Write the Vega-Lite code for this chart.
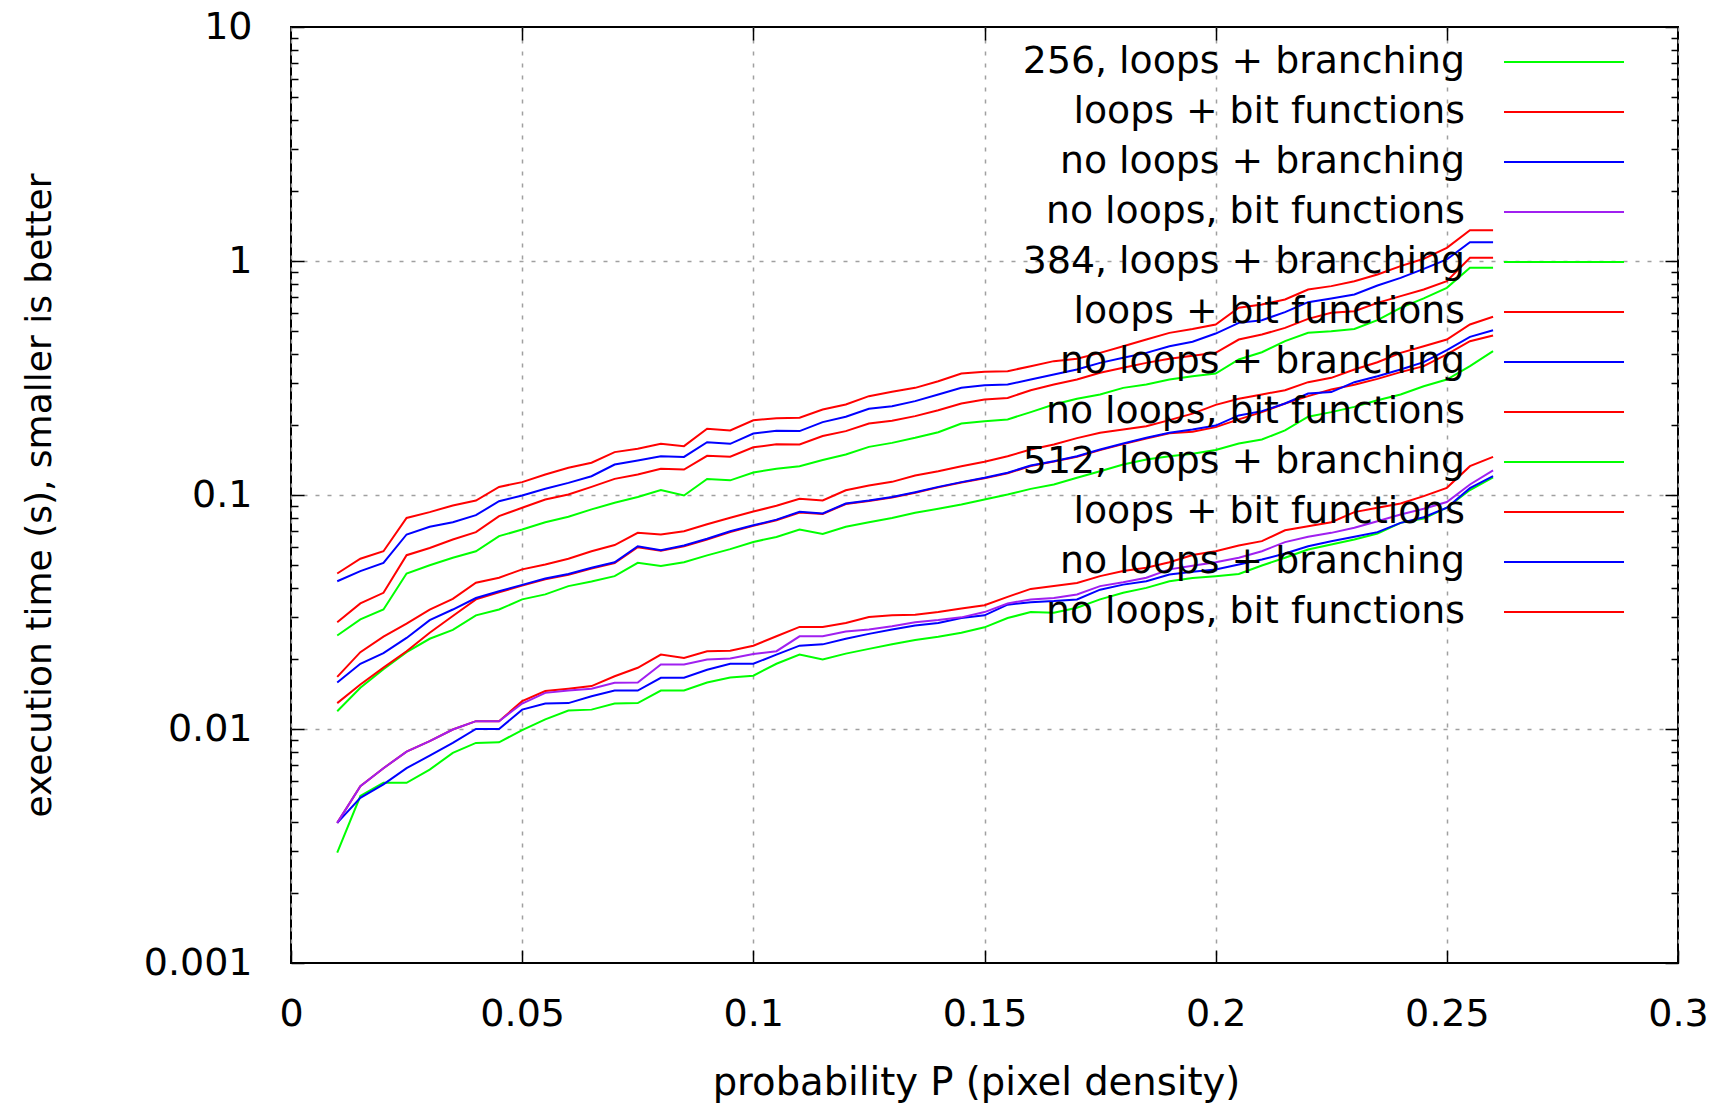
{
  "$schema": "https://vega.github.io/schema/vega-lite/v6.json",
  "width": 1387,
  "height": 936,
  "autosize": {"type": "none"},
  "padding": {"left": 291, "top": 27, "right": 42, "bottom": 146},
  "background": "white",
  "config": {
    "view": {"stroke": "black", "strokeWidth": 2},
    "font": "DejaVu Sans"
  },
  "datasets": {
    "timings": [
      {"p":0.01,"256 lb":0.00296,"256 lf":0.00397,"256 nb":0.00397,"256 nf":0.00397,"384 lb":0.0119,"384 lf":0.0129,"384 nb":0.0158,"384 nf":0.0167,"512 lb":0.0251,"512 lf":0.0286,"512 nb":0.0428,"512 nf":0.0462},
      {"p":0.015,"256 lb":0.00517,"256 lf":0.0057,"256 nb":0.00508,"256 nf":0.0057,"384 lb":0.015,"384 lf":0.0155,"384 nb":0.019,"384 nf":0.0213,"512 lb":0.0294,"512 lf":0.0344,"512 nb":0.0473,"512 nf":0.0534},
      {"p":0.02,"256 lb":0.00589,"256 lf":0.0068,"256 nb":0.0058,"256 nf":0.0068,"384 lb":0.018,"384 lf":0.0183,"384 nb":0.0211,"384 nf":0.0248,"512 lb":0.0324,"512 lf":0.0382,"512 nb":0.0513,"512 nf":0.0575},
      {"p":0.025,"256 lb":0.00589,"256 lf":0.008,"256 nb":0.0068,"256 nf":0.008,"384 lb":0.0213,"384 lf":0.0215,"384 nb":0.0245,"384 nf":0.0282,"512 lb":0.0462,"512 lf":0.0553,"512 nb":0.0678,"512 nf":0.0798},
      {"p":0.03,"256 lb":0.00671,"256 lf":0.00887,"256 nb":0.0077,"256 nf":0.00887,"384 lb":0.0243,"384 lf":0.0258,"384 nb":0.0292,"384 nf":0.0324,"512 lb":0.0501,"512 lf":0.0594,"512 nb":0.0731,"512 nf":0.0845},
      {"p":0.035,"256 lb":0.0079,"256 lf":0.00995,"256 nb":0.00872,"256 nf":0.00995,"384 lb":0.0265,"384 lf":0.0304,"384 nb":0.0324,"384 nf":0.036,"512 lb":0.0539,"512 lf":0.0645,"512 nb":0.0765,"512 nf":0.0902},
      {"p":0.04,"256 lb":0.00872,"256 lf":0.0108,"256 nb":0.01,"256 nf":0.0108,"384 lb":0.0306,"384 lf":0.0358,"384 nb":0.0363,"384 nf":0.0422,"512 lb":0.0575,"512 lf":0.0694,"512 nb":0.082,"512 nf":0.0947},
      {"p":0.045,"256 lb":0.00877,"256 lf":0.0108,"256 nb":0.01,"256 nf":0.0108,"384 lb":0.0324,"384 lf":0.0384,"384 nb":0.0388,"384 nf":0.0443,"512 lb":0.0667,"512 lf":0.0812,"512 nb":0.0941,"512 nf":0.1083},
      {"p":0.05,"256 lb":0.0099,"256 lf":0.01315,"256 nb":0.0121,"256 nf":0.01285,"384 lb":0.0358,"384 lf":0.041,"384 nb":0.0413,"384 nf":0.0481,"512 lb":0.0712,"512 lf":0.0882,"512 nb":0.0995,"512 nf":0.1135},
      {"p":0.055,"256 lb":0.011,"256 lf":0.01452,"256 nb":0.01284,"256 nf":0.01427,"384 lb":0.0376,"384 lf":0.0436,"384 nb":0.044,"384 nf":0.0505,"512 lb":0.0765,"512 lf":0.0957,"512 nb":0.1063,"512 nf":0.1224},
      {"p":0.06,"256 lb":0.012,"256 lf":0.01485,"256 nb":0.0129,"256 nf":0.0146,"384 lb":0.0408,"384 lf":0.0456,"384 nb":0.046,"384 nf":0.0534,"512 lb":0.0807,"512 lf":0.1005,"512 nb":0.1127,"512 nf":0.1307},
      {"p":0.065,"256 lb":0.0121,"256 lf":0.01525,"256 nb":0.0138,"256 nf":0.01485,"384 lb":0.0427,"384 lf":0.0485,"384 nb":0.0489,"384 nf":0.0575,"512 lb":0.0868,"512 lf":0.1083,"512 nb":0.1203,"512 nf":0.1374},
      {"p":0.07,"256 lb":0.01284,"256 lf":0.0168,"256 nb":0.0146,"256 nf":0.01575,"384 lb":0.045,"384 lf":0.0512,"384 nb":0.0516,"384 nf":0.0611,"512 lb":0.0926,"512 lf":0.1172,"512 nb":0.135,"512 nf":0.1525},
      {"p":0.075,"256 lb":0.0129,"256 lf":0.01826,"256 nb":0.0146,"256 nf":0.0158,"384 lb":0.0513,"384 lf":0.0598,"384 nb":0.0604,"384 nf":0.0689,"512 lb":0.098,"512 lf":0.1224,"512 nb":0.1404,"512 nf":0.1575},
      {"p":0.08,"256 lb":0.0146,"256 lf":0.0208,"256 nb":0.01655,"256 nf":0.01887,"384 lb":0.0497,"384 lf":0.0578,"384 nb":0.0581,"384 nf":0.0678,"512 lb":0.105,"512 lf":0.1294,"512 nb":0.1465,"512 nf":0.1655},
      {"p":0.085,"256 lb":0.0146,"256 lf":0.0201,"256 nb":0.01655,"256 nf":0.01887,"384 lb":0.0516,"384 lf":0.0604,"384 nb":0.0608,"384 nf":0.07,"512 lb":0.0995,"512 lf":0.1285,"512 nb":0.1455,"512 nf":0.1617},
      {"p":0.09,"256 lb":0.0158,"256 lf":0.0215,"256 nb":0.0179,"256 nf":0.0198,"384 lb":0.0552,"384 lf":0.0645,"384 nb":0.065,"384 nf":0.075,"512 lb":0.117,"512 lf":0.147,"512 nb":0.168,"512 nf":0.1918},
      {"p":0.095,"256 lb":0.0166,"256 lf":0.0216,"256 nb":0.019,"256 nf":0.02,"384 lb":0.0587,"384 lf":0.0695,"384 nb":0.07,"384 nf":0.08,"512 lb":0.1155,"512 lf":0.1458,"512 nb":0.1655,"512 nf":0.1888},
      {"p":0.1,"256 lb":0.0169,"256 lf":0.0227,"256 nb":0.019,"256 nf":0.0209,"384 lb":0.063,"384 lf":0.0738,"384 nb":0.0742,"384 nf":0.085,"512 lb":0.1248,"512 lf":0.16,"512 nb":0.183,"512 nf":0.2085},
      {"p":0.105,"256 lb":0.019,"256 lf":0.0249,"256 nb":0.0208,"256 nf":0.0215,"384 lb":0.0662,"384 lf":0.078,"384 nb":0.0785,"384 nf":0.0899,"512 lb":0.1296,"512 lf":0.1646,"512 nb":0.188,"512 nf":0.213},
      {"p":0.11,"256 lb":0.0208,"256 lf":0.0273,"256 nb":0.0227,"256 nf":0.0249,"384 lb":0.0712,"384 lf":0.0842,"384 nb":0.0847,"384 nf":0.0963,"512 lb":0.1328,"512 lf":0.1644,"512 nb":0.1875,"512 nf":0.2138},
      {"p":0.115,"256 lb":0.0198,"256 lf":0.0273,"256 nb":0.023,"256 nf":0.0249,"384 lb":0.0682,"384 lf":0.083,"384 nb":0.0834,"384 nf":0.0947,"512 lb":0.141,"512 lf":0.1786,"512 nb":0.2048,"512 nf":0.2319},
      {"p":0.12,"256 lb":0.021,"256 lf":0.0284,"256 nb":0.0243,"256 nf":0.0261,"384 lb":0.0731,"384 lf":0.0915,"384 nb":0.092,"384 nf":0.1048,"512 lb":0.149,"512 lf":0.1875,"512 nb":0.216,"512 nf":0.2436},
      {"p":0.125,"256 lb":0.022,"256 lf":0.0301,"256 nb":0.0255,"256 nf":0.0266,"384 lb":0.0765,"384 lf":0.0942,"384 nb":0.0947,"384 nf":0.1099,"512 lb":0.1606,"512 lf":0.2022,"512 nb":0.2335,"512 nf":0.2645},
      {"p":0.13,"256 lb":0.023,"256 lf":0.0306,"256 nb":0.0266,"256 nf":0.0275,"384 lb":0.0798,"384 lf":0.0975,"384 nb":0.098,"384 nf":0.1138,"512 lb":0.167,"512 lf":0.2075,"512 nb":0.2396,"512 nf":0.276},
      {"p":0.135,"256 lb":0.024,"256 lf":0.0308,"256 nb":0.0277,"256 nf":0.0286,"384 lb":0.0839,"384 lf":0.1022,"384 nb":0.1028,"384 nf":0.1212,"512 lb":0.1755,"512 lf":0.2173,"512 nb":0.2518,"512 nf":0.287},
      {"p":0.14,"256 lb":0.0248,"256 lf":0.0316,"256 nb":0.0284,"256 nf":0.0292,"384 lb":0.0873,"384 lf":0.1078,"384 nb":0.1083,"384 nf":0.1264,"512 lb":0.1855,"512 lf":0.2304,"512 nb":0.269,"512 nf":0.3065},
      {"p":0.145,"256 lb":0.0258,"256 lf":0.0327,"256 nb":0.0298,"256 nf":0.03,"384 lb":0.0911,"384 lf":0.113,"384 nb":0.1135,"384 nf":0.1328,"512 lb":0.202,"512 lf":0.246,"512 nb":0.287,"512 nf":0.3304},
      {"p":0.15,"256 lb":0.0272,"256 lf":0.0338,"256 nb":0.0306,"256 nf":0.0316,"384 lb":0.0957,"384 lf":0.1178,"384 nb":0.1184,"384 nf":0.1386,"512 lb":0.2068,"512 lf":0.2559,"512 nb":0.2947,"512 nf":0.336},
      {"p":0.155,"256 lb":0.0298,"256 lf":0.0367,"256 nb":0.034,"256 nf":0.0344,"384 lb":0.1005,"384 lf":0.1238,"384 nb":0.1244,"384 nf":0.1465,"512 lb":0.2104,"512 lf":0.26,"512 nb":0.2967,"512 nf":0.3381},
      {"p":0.16,"256 lb":0.0316,"256 lf":0.0397,"256 nb":0.0348,"256 nf":0.0358,"384 lb":0.1062,"384 lf":0.133,"384 nb":0.1337,"384 nf":0.1564,"512 lb":0.226,"512 lf":0.2805,"512 nb":0.3116,"512 nf":0.3553},
      {"p":0.165,"256 lb":0.0314,"256 lf":0.0408,"256 nb":0.0352,"256 nf":0.0363,"384 lb":0.1109,"384 lf":0.139,"384 nb":0.1395,"384 nf":0.1644,"512 lb":0.2436,"512 lf":0.2967,"512 nb":0.3273,"512 nf":0.3733},
      {"p":0.17,"256 lb":0.033,"256 lf":0.0421,"256 nb":0.0358,"256 nf":0.0376,"384 lb":0.1184,"384 lf":0.1458,"384 nb":0.1465,"384 nf":0.175,"512 lb":0.2576,"512 lf":0.3116,"512 nb":0.3438,"512 nf":0.3819},
      {"p":0.175,"256 lb":0.0358,"256 lf":0.045,"256 nb":0.0394,"256 nf":0.0408,"384 lb":0.1264,"384 lf":0.1555,"384 nb":0.1564,"384 nf":0.1845,"512 lb":0.269,"512 lf":0.3327,"512 nb":0.367,"512 nf":0.405},
      {"p":0.18,"256 lb":0.0382,"256 lf":0.0473,"256 nb":0.0414,"256 nf":0.0424,"384 lb":0.135,"384 lf":0.165,"384 nb":0.166,"384 nf":0.1905,"512 lb":0.287,"512 lf":0.3496,"512 nb":0.3857,"512 nf":0.4325},
      {"p":0.185,"256 lb":0.0401,"256 lf":0.0489,"256 nb":0.0428,"256 nf":0.0443,"384 lb":0.1419,"384 lf":0.1745,"384 nb":0.1755,"384 nf":0.1968,"512 lb":0.2967,"512 lf":0.367,"512 nb":0.405,"512 nf":0.4618},
      {"p":0.19,"256 lb":0.0428,"256 lf":0.0516,"256 nb":0.0457,"256 nf":0.0481,"384 lb":0.1465,"384 lf":0.1835,"384 nb":0.1845,"384 nf":0.2089,"512 lb":0.3116,"512 lf":0.382,"512 nb":0.4325,"512 nf":0.493},
      {"p":0.195,"256 lb":0.0442,"256 lf":0.0554,"256 nb":0.047,"256 nf":0.0499,"384 lb":0.1502,"384 lf":0.1862,"384 nb":0.1905,"384 nf":0.2227,"512 lb":0.3214,"512 lf":0.394,"512 nb":0.452,"512 nf":0.512},
      {"p":0.2,"256 lb":0.045,"256 lf":0.0575,"256 nb":0.048,"256 nf":0.0516,"384 lb":0.1556,"384 lf":0.195,"384 nb":0.198,"384 nf":0.2427,"512 lb":0.3305,"512 lf":0.405,"512 nb":0.4898,"512 nf":0.5356},
      {"p":0.205,"256 lb":0.046,"256 lf":0.0608,"256 nb":0.0505,"256 nf":0.0539,"384 lb":0.166,"384 lf":0.2104,"384 nb":0.2188,"384 nf":0.2576,"512 lb":0.3793,"512 lf":0.4618,"512 nb":0.544,"512 nf":0.631},
      {"p":0.21,"256 lb":0.05,"256 lf":0.0635,"256 nb":0.053,"256 nf":0.0575,"384 lb":0.1727,"384 lf":0.226,"384 nb":0.2282,"384 nf":0.269,"512 lb":0.4074,"512 lf":0.485,"512 nb":0.5586,"512 nf":0.652},
      {"p":0.215,"256 lb":0.0539,"256 lf":0.0707,"256 nb":0.0562,"256 nf":0.0629,"384 lb":0.1887,"384 lf":0.246,"384 nb":0.246,"384 nf":0.2805,"512 lb":0.4544,"512 lf":0.518,"512 nb":0.6044,"512 nf":0.6846},
      {"p":0.22,"256 lb":0.0585,"256 lf":0.0736,"256 nb":0.0604,"256 nf":0.0663,"384 lb":0.216,"384 lf":0.2645,"384 nb":0.2716,"384 nf":0.3035,"512 lb":0.4932,"512 lf":0.566,"512 nb":0.667,"512 nf":0.755},
      {"p":0.225,"256 lb":0.0614,"256 lf":0.0765,"256 nb":0.0635,"256 nf":0.0689,"384 lb":0.226,"384 lf":0.2825,"384 nb":0.2753,"384 nf":0.3167,"512 lb":0.501,"512 lf":0.6005,"512 nb":0.692,"512 nf":0.781},
      {"p":0.23,"256 lb":0.0645,"256 lf":0.0845,"256 nb":0.0663,"256 nf":0.0724,"384 lb":0.238,"384 lf":0.2958,"384 nb":0.3035,"384 nf":0.3438,"512 lb":0.5124,"512 lf":0.6105,"512 nb":0.7195,"512 nf":0.82},
      {"p":0.235,"256 lb":0.0685,"256 lf":0.0882,"256 nb":0.0694,"256 nf":0.0773,"384 lb":0.254,"384 lf":0.3136,"384 nb":0.322,"384 nf":0.3694,"512 lb":0.5586,"512 lf":0.6626,"512 nb":0.786,"512 nf":0.8755},
      {"p":0.24,"256 lb":0.076,"256 lf":0.092,"256 nb":0.076,"256 nf":0.0826,"384 lb":0.269,"384 lf":0.335,"384 nb":0.3438,"384 nf":0.405,"512 lb":0.631,"512 lf":0.7075,"512 nb":0.847,"512 nf":0.951},
      {"p":0.245,"256 lb":0.0794,"256 lf":0.0989,"256 nb":0.0803,"256 nf":0.0873,"384 lb":0.2917,"384 lf":0.3553,"384 nb":0.3697,"384 nf":0.4325,"512 lb":0.692,"512 lf":0.7556,"512 nb":0.926,"512 nf":1.022},
      {"p":0.25,"256 lb":0.0882,"256 lf":0.1073,"256 nb":0.0882,"256 nf":0.0933,"384 lb":0.3116,"384 lf":0.3986,"384 nb":0.416,"384 nf":0.4618,"512 lb":0.768,"512 lf":0.82,"512 nb":1.015,"512 nf":1.138},
      {"p":0.255,"256 lb":0.105,"256 lf":0.1328,"256 nb":0.107,"256 nf":0.1109,"384 lb":0.3553,"384 lf":0.4544,"384 nb":0.474,"384 nf":0.5355,"512 lb":0.935,"512 lf":1.032,"512 nb":1.204,"512 nf":1.354},
      {"p":0.26,"256 lb":0.119,"256 lf":0.1456,"256 nb":0.1203,"256 nf":0.1275,"384 lb":0.412,"384 lf":0.48,"384 nb":0.506,"384 nf":0.5774,"512 lb":0.935,"512 lf":1.032,"512 nb":1.204,"512 nf":1.354}
    ]
  },
  "layer": [
    {
      "mark": {"type": "rect", "fill": "white", "strokeWidth": 0},
      "encoding": {
        "x": {
          "datum": 0.12, "type": "quantitative",
          "scale": {"domain": [0, 0.3], "nice": false, "zero": false},
          "axis": {
            "orient": "bottom",
            "values": [0, 0.05, 0.1, 0.15, 0.2, 0.25, 0.3],
            "format": "~g",
            "labelFlush": false, "labelOverlap": false,
            "domain": false,
            "grid": true, "gridColor": "#a0a0a0", "gridDash": [4, 8], "gridWidth": 1.5,
            "ticks": true, "tickSize": -13, "tickColor": "black", "tickWidth": 1.5,
            "labelFont": "DejaVu Sans", "labelFontSize": 38, "labelColor": "black", "labelPadding": 45,
            "title": "probability P (pixel density)",
            "titleFont": "DejaVu Sans", "titleFontSize": 38.5, "titleFontWeight": "normal", "titleColor": "black",
            "titleBaseline": "alphabetic", "titleAlign": "center", "titleX": 685, "titleY": 131
          }
        },
        "x2": {"datum": 0.2935},
        "y": {
          "datum": 8.7, "type": "quantitative",
          "scale": {"type": "log", "domain": [0.001, 10], "nice": false},
          "axis": {
            "orient": "left",
            "values": [0.001,0.002,0.003,0.004,0.005,0.006,0.007,0.008,0.009,0.01,0.02,0.03,0.04,0.05,0.06,0.07,0.08,0.09,0.1,0.2,0.3,0.4,0.5,0.6,0.7,0.8,0.9,1,2,3,4,5,6,7,8,9,10],
            "format": "~g",
            "labelExpr": "(datum.value == 0.001 || datum.value == 0.01 || datum.value == 0.1 || datum.value == 1 || datum.value == 10) ? datum.label : ''",
            "labelFlush": false, "labelOverlap": false,
            "domain": false,
            "grid": true, "gridColor": "#a0a0a0", "gridDash": [4, 8], "gridWidth": 1.5,
            "gridOpacity": {"condition": {"test": "datum.value == 0.01 || datum.value == 0.1 || datum.value == 1", "value": 1}, "value": 0},
            "ticks": true,
            "tickSize": {"condition": {"test": "datum.value == 0.001 || datum.value == 0.01 || datum.value == 0.1 || datum.value == 1 || datum.value == 10", "value": -13}, "value": -7},
            "tickColor": "black", "tickWidth": 1.5,
            "labelFont": "DejaVu Sans", "labelFontSize": 38, "labelColor": "black", "labelPadding": 52,
            "title": "execution time (s), smaller is better",
            "titleFont": "DejaVu Sans", "titleFontSize": 36, "titleFontWeight": "normal", "titleColor": "black",
            "titleAngle": 270, "titleBaseline": "alphabetic", "titleAlign": "center",
            "titleX": -241, "titleY": 468
          }
        },
        "y2": {"datum": 0.028}
      }
    },
    {
      "data": {"name": "timings"},
      "transform": [
        {"fold": ["256 lb","256 lf","256 nb","256 nf","384 lb","384 lf","384 nb","384 nf","512 lb","512 lf","512 nb","512 nf"], "as": ["series", "t"]}
      ],
      "mark": {"type": "line", "strokeWidth": 2},
      "encoding": {
        "x": {
          "field": "p", "type": "quantitative",
          "scale": {"domain": [0, 0.3], "nice": false, "zero": false},
          "axis": {
            "orient": "top",
            "values": [0.05, 0.1, 0.15, 0.2, 0.25],
            "labels": false, "domain": false, "grid": false,
            "ticks": true, "tickSize": -13, "tickColor": "black", "tickWidth": 1.5,
            "title": null
          }
        },
        "y": {
          "field": "t", "type": "quantitative",
          "scale": {"type": "log", "domain": [0.001, 10], "nice": false},
          "axis": {
            "orient": "right",
            "values": [0.001,0.002,0.003,0.004,0.005,0.006,0.007,0.008,0.009,0.01,0.02,0.03,0.04,0.05,0.06,0.07,0.08,0.09,0.1,0.2,0.3,0.4,0.5,0.6,0.7,0.8,0.9,1,2,3,4,5,6,7,8,9,10],
            "labels": false, "domain": false, "grid": false,
            "ticks": true,
            "tickSize": {"condition": {"test": "datum.value == 0.001 || datum.value == 0.01 || datum.value == 0.1 || datum.value == 1 || datum.value == 10", "value": -13}, "value": -7},
            "tickColor": "black", "tickWidth": 1.5,
            "title": null
          }
        },
        "color": {
          "field": "series", "type": "nominal",
          "scale": {
            "domain": ["256 lb","256 lf","256 nb","256 nf","384 lb","384 lf","384 nb","384 nf","512 lb","512 lf","512 nb","512 nf"],
            "range": ["#00ff00","#ff0000","#0000ff","#a020f0","#00ff00","#ff0000","#0000ff","#ff0000","#00ff00","#ff0000","#0000ff","#ff0000"]
          },
          "legend": {
            "orient": "none", "legendX": 672, "legendY": 9.5,
            "title": null, "padding": 0,
            "symbolType": "M-1,-0.815M-1,0.815M21.041,0L25.939,0",
            "symbolSize": 2401,
            "symbolStrokeWidth": 2,
            "symbolFillColor": "transparent",
            "symbolOffset": 0,
            "rowPadding": 0,
            "labelAlign": "right", "labelOffset": 451, "labelBaseline": "middle",
            "labelFont": "DejaVu Sans", "labelFontSize": 37.8, "labelColor": "black", "labelLimit": 700,
            "labelExpr": "slice(datum.label, 4) == 'lb' ? slice(datum.label, 0, 3) + ', loops + branching' : slice(datum.label, 4) == 'lf' ? 'loops + bit functions' : slice(datum.label, 4) == 'nb' ? 'no loops + branching' : 'no loops, bit functions'"
          }
        }
      }
    }
  ],
  "resolve": {"axis": {"x": "independent", "y": "independent"}}
}
